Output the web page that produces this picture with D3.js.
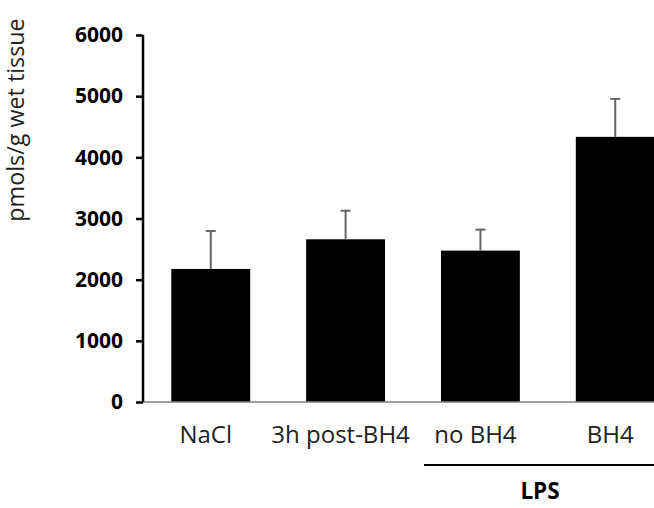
<!DOCTYPE html>
<html>
<head>
<meta charset="utf-8">
<script src="https://cdn.jsdelivr.net/npm/d3@7"></script>
<style>
  body { margin: 0; background: #fff; }
  svg { display: block; font-family: "Open Sans", "Noto Sans", sans-serif; }
</style>
</head>
<body>
<svg id="chart"></svg>
<script>
// values
const categories = ["NaCl", "3h post-BH4", "no BH4", "BH4"];
const means = [2175, 2660, 2475, 4335];
const errors = [620, 467, 343, 620];
const yTicks = [0, 1000, 2000, 3000, 4000, 5000, 6000];
const groupLabel = "LPS";
const groupMembers = ["no BH4", "BH4"];

const data = categories.map((c, i) => ({name: c, mean: means[i], err: errors[i]}));

const width = 654, height = 508;
const plot = {left: 143, right: 683, top: 35, bottom: 402};

const svg = d3.select('#chart')
    .attr('width', width)
    .attr('height', height);

const xScale = d3.scaleBand()
    .domain(categories)
    .range([plot.left, plot.right])
    .paddingInner(0.415)
    .paddingOuter(0.21);

const yScale = d3.scaleLinear()
    .domain([0, 6000])
    .range([plot.bottom, plot.top]);

// bars
svg.selectAll('.bar')
    .data(data)
    .join('rect')
    .attr('class', 'bar')
    .attr('x', d => xScale(d.name))
    .attr('width', xScale.bandwidth())
    .attr('y', d => yScale(d.mean))
    .attr('height', d => yScale(0) - yScale(d.mean))
    .attr('fill', '#000');

// error bars (upper only)
const cx = d => xScale(d.name) + xScale.bandwidth() / 2;
svg.selectAll('.err')
    .data(data)
    .join('line')
    .attr('class', 'err')
    .attr('x1', cx).attr('x2', cx)
    .attr('y1', d => yScale(d.mean))
    .attr('y2', d => yScale(d.mean + d.err))
    .attr('stroke', '#666')
    .attr('stroke-width', 2);

svg.selectAll('.cap')
    .data(data)
    .join('line')
    .attr('class', 'cap')
    .attr('x1', d => cx(d) - 5).attr('x2', d => cx(d) + 5)
    .attr('y1', d => yScale(d.mean + d.err))
    .attr('y2', d => yScale(d.mean + d.err))
    .attr('stroke', '#666')
    .attr('stroke-width', 2);

// baseline
svg.append('line')
    .attr('x1', plot.left).attr('x2', width)
    .attr('y1', yScale(0)).attr('y2', yScale(0))
    .attr('stroke', '#808080')
    .attr('stroke-width', 1.5);

// y axis
const yAxis = d3.axisLeft(yScale)
    .tickValues(yTicks)
    .tickSize(7)
    .tickPadding(13)
    .tickFormat(d3.format('d'));

const yAxisG = svg.append('g')
    .attr('transform', `translate(${plot.left},0)`)
    .call(yAxis);

yAxisG.select('.domain')
    .attr('d', `M0,${plot.top}V${plot.bottom}`)
    .attr('stroke', '#000')
    .attr('stroke-width', 2.5);
yAxisG.selectAll('.tick line')
    .attr('stroke', '#000')
    .attr('stroke-width', 2.5);
yAxisG.selectAll('.tick text')
    .attr('font-family', '"Open Sans", sans-serif')
    .attr('font-size', 21)
    .attr('font-weight', 'bold')
    .attr('fill', '#000');

// category labels
svg.selectAll('.xlabel')
    .data(data)
    .join('text')
    .attr('class', 'xlabel')
    .attr('x', d => cx(d) - 5)
    .attr('y', 443)
    .attr('text-anchor', 'middle')
    .attr('font-size', 24)
    .attr('fill', '#222')
    .text(d => d.name);

// LPS group bracket
const gStart = xScale(groupMembers[0]) - 17;
svg.append('line')
    .attr('x1', gStart).attr('x2', width)
    .attr('y1', 465).attr('y2', 465)
    .attr('stroke', '#000')
    .attr('stroke-width', 2);

svg.append('text')
    .attr('x', 540)
    .attr('y', 499)
    .attr('text-anchor', 'middle')
    .attr('font-size', 22.5)
    .attr('font-weight', 'bold')
    .attr('fill', '#000')
    .text(groupLabel);

// y axis title
svg.append('text')
    .attr('transform', 'translate(24,120) rotate(-90)')
    .attr('text-anchor', 'middle')
    .attr('font-size', 23.3)
    .attr('fill', '#222')
    .text('pmols/g wet tissue');
</script>
</body>
</html>
